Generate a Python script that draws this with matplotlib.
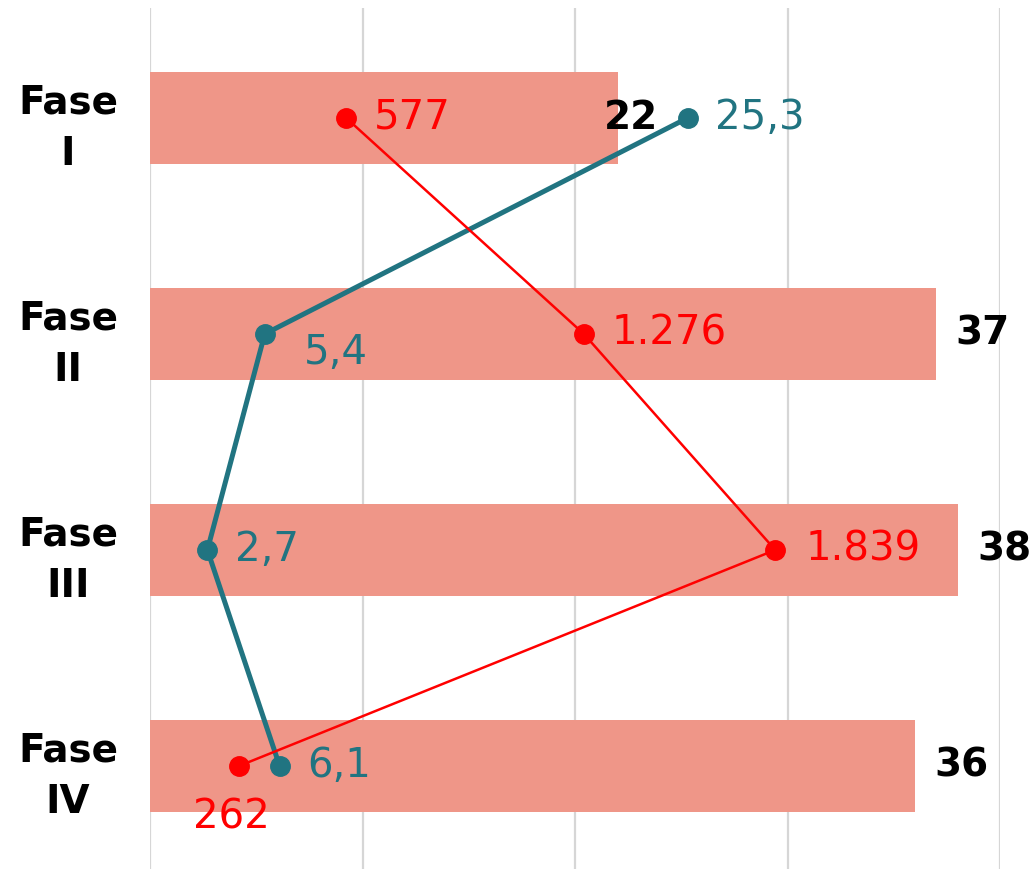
import matplotlib.pyplot as plt
import numpy as np

fases = ['Fase\nI', 'Fase\nII', 'Fase\nIII', 'Fase\nIV']
barras = [22, 37, 38, 36]
teal_vals = [25.3, 5.4, 2.7, 6.1]
teal_labels = ['25,3', '5,4', '2,7', '6,1']
red_vals = [577, 1276, 1839, 262]
red_labels = ['577', '1.276', '1.839', '262']

bar_color = '#EF9688'
teal = '#217481'
red = '#FF0000'

plt.rcParams['font.family'] = 'DejaVu Sans'

fig = plt.figure(figsize=(10.33, 8.69), dpi=100)
ax = fig.add_axes([150 / 1033, 0.0, 850 / 1033, (869 - 8) / 869])

y = np.arange(len(fases))
ax.barh(y, barras, height=0.43, color=bar_color, zorder=2)
ax.set_xlim(0, 40)
ax.set_ylim(3.477, -0.509)
ax.set_xticks([0, 10, 20, 30, 40])
ax.xaxis.grid(True, color='#D6D6D6', linewidth=1.6, zorder=0)
ax.tick_params(axis='x', length=0, labelbottom=False)
ax.tick_params(axis='y', length=0, pad=59)
ax.set_yticks(y)
ax.set_yticklabels(fases, fontsize=28, fontweight='bold', ha='center',
                   multialignment='center', linespacing=1.45)
for s in ax.spines.values():
    s.set_visible(False)

# valores das barras
for i, v in enumerate(barras):
    off = -10 if i == 0 else 14
    ax.annotate(str(v), (v, i), xytext=(off, 0), textcoords='offset points',
                fontsize=28, fontweight='bold', va='center', ha='left', zorder=6)

# serie teal
ax.plot(teal_vals, y, color=teal, linewidth=3.6, marker='o', markersize=14, zorder=4)
teal_off = [(20, 0), (28, -14), (20, 0), (20, 0)]
for i, (v, lab) in enumerate(zip(teal_vals, teal_labels)):
    ax.annotate(lab, (v, i), xytext=teal_off[i], textcoords='offset points',
                fontsize=29, color=teal, va='center', ha='left', zorder=6)

# serie vermelha (eixo secundario)
ax2 = ax.twiny()
ax2.set_xlim(0, 2500)
ax2.set_ylim(ax.get_ylim())
ax2.plot(red_vals, y, color=red, linewidth=1.8, marker='o', markersize=14, zorder=5)
red_off = [(20, 0), (20, 0), (22, 0), (-33, -37)]
for i, (v, lab) in enumerate(zip(red_vals, red_labels)):
    ax2.annotate(lab, (v, i), xytext=red_off[i], textcoords='offset points',
                 fontsize=29, color=red, va='center', ha='left', zorder=6)
ax2.set_xticks([])
for s in ax2.spines.values():
    s.set_visible(False)

fig.savefig('out.png', dpi=100)
